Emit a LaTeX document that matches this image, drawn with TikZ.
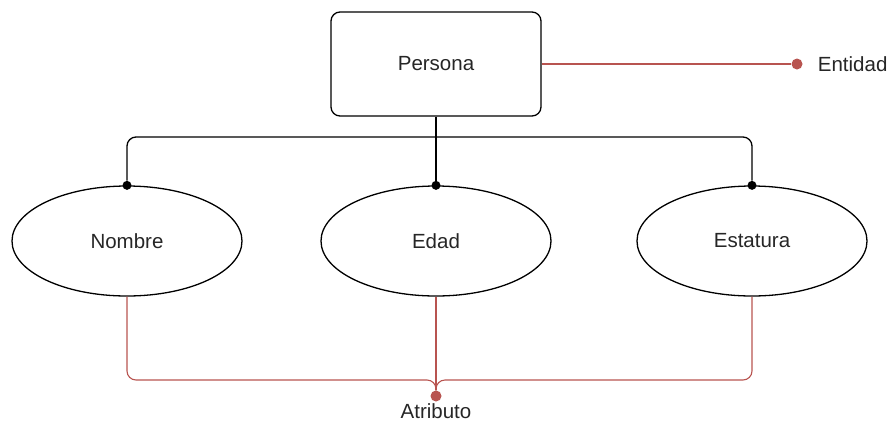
\documentclass[tikz,border=0pt]{standalone}
\usepackage{fontspec}
\setmainfont{Liberation Sans}
\usepackage{xcolor}
\usetikzlibrary{shapes.geometric,positioning}
\definecolor{redline}{HTML}{B85450}

\begin{document}
\begin{tikzpicture}[
    x=1pt, y=-1pt,
    every node/.style={font=\fontsize{20.5}{24}\selectfont, text=black!85},
    entity/.style={rectangle, draw, line width=1.3pt, rounded corners=9pt, minimum width=210pt, minimum height=104pt},
    attr/.style={ellipse, draw, line width=1.3pt, minimum width=230pt, minimum height=110pt},
    link/.style={line width=1.3pt, rounded corners=9pt},
    note/.style={line width=1.1pt, redline, rounded corners=9pt},
    label/.style={inner sep=0pt},
    blackdot/.style={circle, fill=black, inner sep=0pt, minimum size=9pt},
    reddot/.style={circle, fill=redline, inner sep=0pt, minimum size=11pt}
]
    \useasboundingbox (0,0) rectangle (889,424);

    % Entity
    \node[entity] (persona) at (436,64) {Persona};

    % Attributes
    \node[attr] (nombre) at (127,241) {Nombre};
    \node[attr] (edad) at (436,241) {Edad};
    \node[attr] (estatura) at (752,241) {Estatura};

    % Dots on the attributes
    \node[blackdot] (dnombre) at (nombre.north) {};
    \node[blackdot] (dedad) at (edad.north) {};
    \node[blackdot] (destatura) at (estatura.north) {};

    % Branch
    \coordinate (fork) at (436,137);
    \draw[link] (persona.south) -- (dedad);
    \draw[link] (fork) -| (dnombre);
    \draw[link] (fork) -| (destatura);

    % Entidad label
    \node[reddot] (entdot) at (797,64) {};
    \node[label, right=15pt of entdot] (entidad) {Entidad};
    \draw[note] (persona.east) -- (entdot);

    % Atributo label
    \node[reddot] (atrdot) at (436,396) {};
    \node[label, below=2pt of atrdot] (atributo) {Atributo};
    \coordinate (join) at (436,380);
    \draw[note] (edad.south) -- (atrdot);
    \draw[note] (nombre.south) |- (join) -- (atrdot);
    \draw[note] (estatura.south) |- (join) -- (atrdot);

\end{tikzpicture}
\end{document}
